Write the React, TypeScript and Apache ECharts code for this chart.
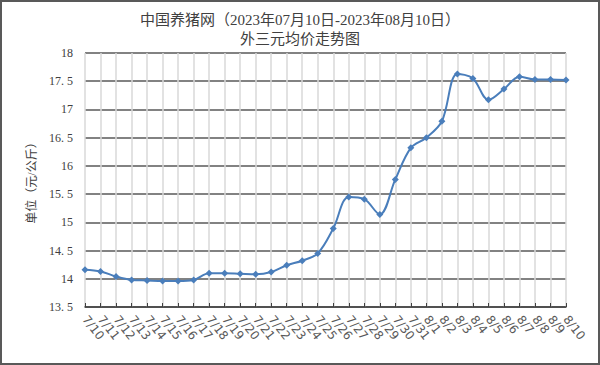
import React, { useEffect, useRef } from "react";
import * as echarts from "echarts";

const categories = [
  "7/10", "7/11", "7/12", "7/13", "7/14", "7/15", "7/16", "7/17", "7/18", "7/19", "7/20",
  "7/21", "7/22", "7/23", "7/24", "7/25", "7/26", "7/27", "7/28", "7/29", "7/30", "7/31",
  "8/1", "8/2", "8/3", "8/4", "8/5", "8/6", "8/7", "8/8", "8/9", "8/10",
];
const prices = [
  14.16, 14.13, 14.04, 13.98, 13.97, 13.96, 13.96, 13.98, 14.1, 14.1, 14.09,
  14.08, 14.12, 14.24, 14.32, 14.45, 14.89, 15.45, 15.41, 15.14, 15.76, 16.32,
  16.5, 16.79, 17.63, 17.55, 17.17, 17.36, 17.58, 17.53, 17.53, 17.52,
];
const titleLine1 = "中国养猪网（2023年07月10日-2023年08月10日）";
const titleLine2 = "外三元均价走势图";
const yAxisName = "单位（元/公斤）";

export default function App() {
  const ref = useRef<HTMLDivElement>(null);
  useEffect(() => {
    if (!ref.current) return;
    const chart = echarts.init(ref.current, null, { renderer: "svg" });
    const serif = "Liberation Serif, Noto Sans CJK SC, serif";
    chart.setOption({
      animation: false,
      backgroundColor: "#ffffff",
      title: {
        text: titleLine1 + "\n" + titleLine2,
        left: "center",
        top: 5,
        textStyle: {
          fontSize: 15,
          fontWeight: "normal",
          color: "#404040",
          lineHeight: 19,
          fontFamily: serif,
        },
      },
      graphic: [
        {
          type: "rect",
          shape: { x: 1, y: 1, width: 598, height: 363 },
          style: { fill: "none", stroke: "#595959", lineWidth: 2 },
          silent: true,
        },
      ],
      grid: { left: 85, right: 34, top: 53, bottom: 58, containLabel: false },
      xAxis: {
        type: "category",
        data: categories,
        boundaryGap: false,
        axisLine: { show: true, lineStyle: { color: "#404040", width: 1.5 } },
        axisTick: { show: true, inside: true, length: 4, lineStyle: { color: "#404040" } },
        axisLabel: {
          interval: 0,
          rotate: -52,
          color: "#595959",
          fontSize: 12,
          margin: 10,
          fontFamily: "DejaVu Sans, sans-serif",
        },
        splitLine: { show: true, lineStyle: { color: "#d9d9d9", width: 1.5 } },
      },
      yAxis: {
        type: "value",
        min: 13.5,
        max: 18,
        interval: 0.5,
        name: yAxisName,
        nameLocation: "middle",
        nameGap: 44,
        nameRotate: 90,
        nameTextStyle: {
          color: "#404040",
          fontSize: 12,
          fontFamily: serif,
        },
        axisLine: { show: false },
        axisTick: { show: false },
        axisLabel: {
          color: "#404040",
          fontSize: 12,
          margin: 12,
          fontFamily: serif,
          formatter: (v: number) => (Number.isInteger(v) ? String(v) : v.toFixed(1).replace(".", ". ")),
        },
        splitLine: { show: true, lineStyle: { color: "#595959", width: 1.5 } },
      },
      series: [
        {
          type: "line",
          data: prices,
          smooth: 0.35,
          symbol: "diamond",
          symbolSize: 7,
          itemStyle: { color: "#4a7ebb" },
          lineStyle: { color: "#4a7ebb", width: 2 },
        },
      ],
    });
    return () => chart.dispose();
  }, []);
  return (
    <div
      ref={ref}
      style={{ position: "absolute", left: 0, top: 0, width: 600, height: 365 }}
    />
  );
}
